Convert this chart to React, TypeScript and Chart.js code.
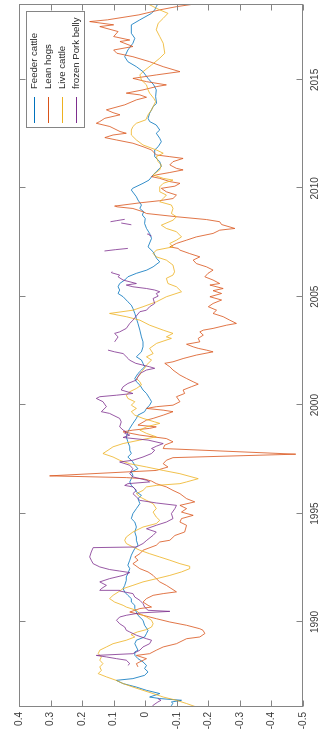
import React, { useEffect, useRef } from "react";
import { Chart, registerables } from "chart.js";

Chart.register(...registerables);

// ---- chart content ----
const seriesNames = ["Feeder cattle", "Lean hogs", "Live cattle", "frozen Pork belly"];
const seriesColors = ["#0072BD", "#D95319", "#EDB120", "#7E2F8E"];
const yearTicks = [1990, 1995, 2000, 2005, 2010, 2015];
const valueTicks = [-0.5, -0.4, -0.3, -0.2, -0.1, 0, 0.1, 0.2, 0.3, 0.4];
const yearMin = 1986.08;
const yearMax = 2018.5;

const feederYears = [
  1986.08, 1986.16, 1986.24, 1986.31, 1986.39, 1986.47, 1986.54, 1986.7, 1986.85, 1987.0,
  1987.16, 1987.31, 1987.39, 1987.54, 1987.7, 1987.85, 1988.0, 1988.16, 1988.31, 1988.47,
  1988.62, 1988.7, 1988.85, 1989.0, 1989.16, 1989.31, 1989.47, 1989.62, 1989.85, 1990.08,
  1990.31, 1990.46, 1990.62, 1990.77, 1990.92, 1991.08, 1991.23, 1991.38, 1991.54, 1991.69,
  1991.92, 1992.08, 1992.23, 1992.46, 1992.62, 1992.85, 1993.08, 1993.23, 1993.39, 1993.54,
  1993.77, 1993.92, 1994.15, 1994.38, 1994.61, 1994.77, 1995.0, 1995.23, 1995.46, 1995.69,
  1995.84, 1996.0, 1996.15, 1996.3, 1996.46, 1996.61, 1996.77, 1996.92, 1997.07, 1997.23,
  1997.38, 1997.61, 1997.77, 1997.92, 1998.08, 1998.31, 1998.54, 1998.77, 1998.93, 1999.16,
  1999.39, 1999.54, 1999.7, 1999.85, 2000.0, 2000.16, 2000.31, 2000.54, 2000.7, 2000.93,
  2001.08, 2001.23, 2001.46, 2001.62, 2001.77, 2001.93, 2002.08, 2002.23, 2002.46, 2002.69,
  2002.92, 2003.15, 2003.46, 2003.77, 2004.0, 2004.23, 2004.46, 2004.61, 2004.77, 2005.0,
  2005.15, 2005.31, 2005.46, 2005.61, 2005.77, 2005.92, 2006.08, 2006.23, 2006.38, 2006.61,
  2006.77, 2007.07, 2007.3, 2007.69, 2007.92, 2008.15, 2008.38, 2008.61, 2008.77, 2008.92,
  2009.07, 2009.23, 2009.46, 2009.61, 2009.92, 2010.0, 2010.23, 2010.38, 2010.62, 2010.77,
  2011.0, 2011.23, 2011.46, 2011.77, 2011.92, 2012.15, 2012.31, 2012.54, 2012.69, 2012.92,
  2013.08, 2013.23, 2013.46, 2013.62, 2013.77, 2013.92, 2014.23, 2014.54, 2014.77, 2015.07,
  2015.38, 2015.61, 2015.84, 2016.07, 2016.38, 2016.69, 2016.92, 2017.15, 2017.54, 2017.77,
  2018.07, 2018.23, 2018.38, 2018.5,
];
const feederValues = [
  -0.088, -0.083, -0.088, -0.083, -0.115, -0.046, -0.014, -0.046, -0.004, 0.028,
  0.07, 0.092, 0.039, 0.002, -0.009, 0.002, -0.004, 0.007, 0.023, 0.033,
  0.033, 0.023, 0.028, 0.033, 0.028, 0.002, -0.004, -0.009, 0.002, 0.007,
  0.023, 0.028, 0.033, 0.033, 0.044, 0.044, 0.055, 0.065, 0.07, 0.065,
  0.06, 0.06, 0.055, 0.049, 0.055, 0.049, 0.044, 0.039, 0.033, 0.023,
  0.028, 0.028, 0.033, 0.028, 0.033, 0.044, 0.039, 0.028, 0.017, 0.023,
  0.012, 0.028, 0.033, 0.044, 0.049, 0.044, 0.039, 0.044, 0.023, 0.033,
  0.039, 0.055, 0.044, 0.049, 0.049, 0.055, 0.06, 0.055, 0.049, 0.039,
  0.028, 0.023, 0.002, -0.004, -0.014, -0.02, -0.014, -0.004, 0.007, 0.017,
  0.028, 0.033, 0.023, 0.012, 0.002, 0.007, 0.012, 0.028, 0.012, 0.007,
  0.007, 0.012, 0.017, 0.023, 0.028, 0.033, 0.039, 0.044, 0.055, 0.07,
  0.086, 0.081, 0.086, 0.081, 0.065, 0.055, 0.028, -0.005, -0.025, -0.046,
  -0.036, -0.025, -0.009, -0.02, -0.014, -0.004, 0.002, 0.0, 0.009, 0.005,
  0.017, 0.012, 0.023, 0.028, 0.044, 0.04, 0.007, -0.012, -0.025, -0.035,
  -0.051, -0.046, -0.03, -0.03, -0.041, -0.051, -0.046, -0.035, -0.046, -0.035,
  -0.014, -0.009, -0.014, -0.02, -0.025, -0.036, -0.033, -0.035, -0.027, -0.009,
  0.007, 0.028, 0.055, 0.065, 0.055, 0.039, 0.033, 0.044, 0.044, 0.017,
  -0.02, -0.03, -0.035, -0.04,
];

const leanYears = [
  1987.93, 1988.08, 1988.16, 1988.31, 1988.46, 1988.54, 1988.7, 1988.85, 1989.0, 1989.23,
  1989.31, 1989.47, 1989.62, 1989.69, 1989.85, 1990.0, 1990.15, 1990.31, 1990.46, 1990.62,
  1990.69, 1990.77, 1990.92, 1991.08, 1991.23, 1991.31, 1991.39, 1991.69, 1991.85, 1992.0,
  1992.15, 1992.31, 1992.46, 1992.69, 1992.85, 1993.0, 1993.15, 1993.31, 1993.54, 1993.69,
  1993.77, 1993.99, 1994.15, 1994.46, 1994.61, 1994.77, 1994.92, 1995.07, 1995.23, 1995.38,
  1995.54, 1995.69, 1995.92, 1996.07, 1996.23, 1996.38, 1996.5, 1996.61, 1996.66, 1996.74,
  1996.99, 1997.15, 1997.3, 1997.46, 1997.58, 1997.74, 1998.0, 1998.16, 1998.31, 1998.46,
  1998.54, 1998.62, 1998.77, 1998.85, 1998.93, 1999.0, 1999.08, 1999.31, 1999.39, 1999.54,
  1999.7, 1999.77, 1999.85, 1999.93, 2000.0, 2000.16, 2000.39, 2000.54, 2000.7, 2000.85,
  2000.97, 2001.08, 2001.23, 2001.39, 2001.62, 2001.77, 2001.93, 2002.0, 2002.15, 2002.31,
  2002.46, 2002.54, 2002.62, 2002.69, 2002.81, 2002.92, 2003.08, 2003.23, 2003.38, 2003.46,
  2003.54, 2003.69, 2003.77, 2003.92, 2004.08, 2004.23, 2004.38, 2004.54, 2004.69, 2004.85,
  2005.0, 2005.15, 2005.28, 2005.38, 2005.54, 2005.61, 2005.77, 2005.92, 2006.08, 2006.23,
  2006.38, 2006.53, 2006.69, 2006.84, 2006.99, 2007.15, 2007.23, 2007.3, 2007.46, 2007.61,
  2007.76, 2007.92, 2008.07, 2008.15, 2008.33, 2008.46, 2008.56, 2008.69, 2008.84, 2008.92,
  2009.07, 2009.15, 2009.18, 2009.33, 2009.43, 2009.53, 2009.69, 2009.84, 2010.0, 2010.1,
  2010.23, 2010.31, 2010.46, 2010.54, 2010.62, 2010.73, 2010.85, 2010.92, 2011.08, 2011.23,
  2011.38, 2011.46, 2011.54, 2011.77, 2011.92, 2012.08, 2012.23, 2012.34, 2012.46, 2012.54,
  2012.62, 2012.85, 2013.0, 2013.08, 2013.23, 2013.39, 2013.49, 2013.62, 2013.85, 2014.08,
  2014.2, 2014.31, 2014.39, 2014.54, 2014.69, 2014.77, 2014.92, 2015.07, 2015.23, 2015.38,
  2015.61, 2015.84, 2016.07, 2016.23, 2016.38, 2016.54, 2016.77, 2016.84, 2017.0, 2017.23,
  2017.46, 2017.54, 2017.69, 2017.77, 2018.0, 2018.23, 2018.38, 2018.5,
];
const leanValues = [
  0.023, 0.028, 0.017, -0.004, 0.028, -0.014, -0.035, -0.057, -0.099, -0.131,
  -0.173, -0.189, -0.183, -0.173, -0.131, -0.078, -0.036, 0.007, 0.049, 0.017,
  -0.02, -0.009, 0.007, -0.004, -0.025, -0.057, -0.099, -0.067, -0.046, -0.035,
  -0.025, -0.009, 0.017, 0.039, 0.023, 0.033, 0.017, 0.007, -0.035, -0.046,
  -0.078, -0.094, -0.125, -0.131, -0.11, -0.115, -0.152, -0.115, -0.131, -0.11,
  -0.157, -0.131, -0.11, -0.088, -0.067, -0.035, -0.02, 0.007, 0.06, 0.303,
  -0.035, -0.072, -0.057, -0.067, -0.088, -0.477, -0.057, -0.062, -0.088, -0.067,
  -0.025, 0.017, 0.07, 0.039, -0.014, -0.035, 0.023, -0.004, -0.025, -0.057,
  -0.088, -0.057, -0.004, -0.035, -0.088, -0.11, -0.099, -0.125, -0.12, -0.146,
  -0.168, -0.152, -0.131, -0.11, -0.088, -0.078, -0.062, -0.088, -0.12, -0.162,
  -0.215, -0.194, -0.168, -0.152, -0.131, -0.173, -0.168, -0.184, -0.173, -0.184,
  -0.215, -0.258, -0.289, -0.268, -0.247, -0.215, -0.226, -0.2, -0.215, -0.242,
  -0.205, -0.242, -0.215, -0.247, -0.205, -0.236, -0.215, -0.189, -0.199, -0.215,
  -0.194, -0.162, -0.152, -0.173, -0.141, -0.11, -0.104, -0.078, -0.099, -0.131,
  -0.162, -0.215, -0.236, -0.284, -0.242, -0.236, -0.194, -0.099, -0.004, 0.007,
  0.039, 0.091, 0.097, 0.017, -0.046, -0.088, -0.099, -0.067, -0.051, -0.094,
  -0.11, -0.078, -0.046, -0.02, -0.035, -0.078, -0.12, -0.099, -0.078, -0.088,
  -0.12, -0.078, -0.035, -0.02, 0.007, 0.039, 0.091, 0.128, 0.102, 0.06,
  0.08, 0.112, 0.155, 0.144, 0.128, 0.08, 0.102, 0.123, 0.065, 0.028,
  -0.004, 0.017, 0.06, 0.007, -0.035, -0.067, -0.004, 0.039, -0.035, -0.11,
  -0.057, -0.014, 0.039, 0.09, 0.1, 0.039, 0.08, 0.049, 0.1, 0.086,
  0.144, 0.1, 0.176, 0.12, 0.02, -0.046, -0.1, -0.157,
];

const liveYears = [
  1986.08, 1986.24, 1986.39, 1986.54, 1986.7, 1986.85, 1987.0, 1987.16, 1987.31, 1987.47,
  1987.62, 1987.77, 1987.93, 1988.08, 1988.24, 1988.39, 1988.54, 1988.7, 1988.85, 1989.0,
  1989.16, 1989.31, 1989.42, 1989.54, 1989.65, 1989.77, 1989.92, 1990.08, 1990.23, 1990.38,
  1990.54, 1990.69, 1990.77, 1990.92, 1991.08, 1991.23, 1991.38, 1991.54, 1991.69, 1991.85,
  1992.0, 1992.15, 1992.31, 1992.46, 1992.57, 1992.69, 1992.85, 1993.0, 1993.15, 1993.31,
  1993.46, 1993.62, 1993.77, 1993.92, 1994.15, 1994.38, 1994.54, 1994.69, 1994.84, 1995.07,
  1995.23, 1995.46, 1995.61, 1995.77, 1995.92, 1996.07, 1996.23, 1996.3, 1996.38, 1996.46,
  1996.61, 1996.84, 1996.99, 1997.15, 1997.3, 1997.46, 1997.61, 1997.77, 1997.92, 1998.08,
  1998.23, 1998.39, 1998.54, 1998.7, 1998.85, 1999.0, 1999.16, 1999.23, 1999.39, 1999.54,
  1999.7, 1999.85, 2000.0, 2000.16, 2000.31, 2000.46, 2000.62, 2000.77, 2000.93, 2001.08,
  2001.23, 2001.39, 2001.54, 2001.7, 2001.85, 2002.08, 2002.23, 2002.38, 2002.62, 2002.85,
  2003.08, 2003.15, 2003.31, 2003.46, 2003.69, 2003.92, 2004.08, 2004.23, 2004.38, 2004.54,
  2004.77, 2005.0, 2005.23, 2005.46, 2005.61, 2005.85, 2006.0, 2006.15, 2006.46, 2006.69,
  2006.84, 2006.99, 2007.15, 2007.3, 2007.46, 2007.61, 2007.76, 2008.0, 2008.15, 2008.3,
  2008.53, 2008.69, 2008.84, 2009.07, 2009.23, 2009.38, 2009.53, 2009.69, 2009.84, 2010.07,
  2010.23, 2010.38, 2010.46, 2010.62, 2010.85, 2011.08, 2011.23, 2011.46, 2011.62, 2011.77,
  2012.0, 2012.23, 2012.46, 2012.69, 2012.85, 2013.0, 2013.16, 2013.39, 2013.62, 2013.77,
  2014.0, 2014.15, 2014.39, 2014.54, 2014.77, 2015.0, 2015.23, 2015.38, 2015.69, 2016.0,
  2016.23, 2016.69, 2017.0, 2017.31, 2017.61, 2017.84, 2018.07, 2018.23, 2018.5,
];
const liveValues = [
  -0.162, -0.131, -0.099, -0.057, -0.025, 0.007, 0.039, 0.07, 0.092, 0.123,
  0.149, 0.139, 0.144, 0.134, 0.144, 0.139, 0.149, 0.144, 0.123, 0.102,
  0.06, 0.033, 0.045, 0.025, -0.004, -0.02, -0.025, -0.02, -0.004, 0.017,
  0.028, 0.06, 0.07, 0.097, 0.113, 0.102, 0.086, 0.07, 0.039, 0.007,
  -0.036, -0.078, -0.115, -0.141, -0.141, -0.11, -0.078, -0.046, -0.014, 0.017,
  0.039, 0.06, 0.065, 0.06, 0.039, 0.007, -0.035, -0.046, -0.035, -0.025,
  -0.035, -0.025, -0.004, 0.017, 0.028, 0.007, -0.004, -0.035, -0.11, -0.131,
  -0.168, -0.11, -0.057, -0.004, 0.049, 0.081, 0.102, 0.134, 0.118, 0.102,
  0.07, 0.017, -0.035, -0.004, 0.017, -0.004, -0.046, -0.03, 0.007, 0.033,
  0.044, 0.028, 0.044, 0.033, 0.055, 0.06, 0.049, 0.028, 0.012, 0.017,
  0.028, 0.017, 0.012, 0.002, -0.004, -0.02, -0.004, -0.025, -0.014, -0.036,
  -0.083, -0.067, -0.088, -0.057, -0.014, 0.017, 0.06, 0.113, 0.039, 0.007,
  -0.036, -0.067, -0.115, -0.099, -0.072, -0.067, -0.088, -0.093, -0.088, -0.067,
  -0.035, -0.025, -0.035, -0.088, -0.078, -0.099, -0.115, -0.099, -0.067, -0.051,
  -0.088, -0.099, -0.083, -0.088, -0.083, -0.046, -0.057, -0.067, -0.046, -0.046,
  -0.057, -0.088, -0.057, -0.025, -0.046, -0.051, -0.041, -0.035, -0.057, -0.035,
  0.007, 0.028, 0.044, 0.044, 0.039, 0.028, -0.002, -0.009, -0.02, -0.025,
  -0.033, -0.027, -0.014, -0.009, -0.004, 0.012, 0.017, 0.007, -0.02, -0.046,
  -0.062, -0.057, -0.046, -0.035, -0.041, -0.057, -0.072, -0.046, -0.009,
];

const porkYears = [
  1986.08, 1986.16, 1986.31, 1986.39, 1986.47, 1987.2, 1988.0, 1988.08, 1988.24, 1988.31,
  1988.39, 1988.46, 1988.54, 1988.7, 1988.85, 1989.0, 1989.16, 1989.23, 1989.39, 1989.54,
  1989.62, 1989.77, 1989.92, 1990.08, 1990.23, 1990.31, 1990.42, 1990.49, 1990.54, 1990.69,
  1990.85, 1991.0, 1991.15, 1991.31, 1991.43, 1991.46, 1991.54, 1991.69, 1991.85, 1992.0,
  1992.15, 1992.28, 1992.35, 1992.42, 1992.54, 1992.69, 1992.85, 1993.0, 1993.23, 1993.43,
  1993.46, 1993.62, 1993.77, 1994.0, 1994.15, 1994.3, 1994.46, 1994.61, 1994.77, 1995.0,
  1995.23, 1995.38, 1995.49, 1995.61, 1995.77, 1995.92, 1996.07, 1996.23, 1996.3, 1996.38,
  1996.46, 1996.54, 1996.69, 1996.84, 1997.07, 1997.23, 1997.38, 1997.46, 1997.61, 1997.77,
  1997.92, 1998.0, 1998.11, 1998.23, 1998.39, 1998.51, 1998.62, 1998.7, 1998.77, 1998.85,
  1999.0, 1999.23, 1999.39, 1999.54, 1999.62, 1999.7, 1999.93, 2000.16, 2000.31, 2000.39,
  2000.46, 2000.54, 2000.7, 2000.85, 2001.0, 2001.16, 2001.31, 2001.46, 2001.62, 2001.7,
  2001.77, 2001.93, 2002.08, 2002.15, 2002.38, 2002.46, 2002.54, 2002.73, 2002.92, 2003.15,
  2003.31, 2003.38, 2003.54, 2003.77, 2003.92, 2004.31, 2004.38, 2004.54, 2004.69, 2004.92,
  2005.03, 2005.15, 2005.23, 2005.31, 2005.38, 2005.46, 2005.54, 2005.61, 2005.77, 2005.92,
  2006.0, 2006.11, 2006.16, 2006.6, 2007.11, 2007.17, 2007.23, 2007.5, 2007.8, 2007.85,
  2007.89, 2008.1, 2008.32, 2008.4, 2008.43, 2008.46, 2008.51, 2008.57,
];
const porkValues = [
  -0.02, -0.025, -0.04, -0.05, -0.04, null, 0.055, 0.049, 0.06, 0.091,
  0.123, 0.155, 0.039, 0.017, 0.007, -0.014, -0.02, -0.004, 0.028, 0.049,
  0.06, 0.065, 0.081, 0.091, 0.081, 0.06, 0.017, -0.078, -0.009, 0.002,
  0.007, 0.017, 0.033, 0.039, 0.081, 0.144, 0.139, 0.123, 0.144, 0.113,
  0.07, 0.049, 0.081, 0.113, 0.144, 0.165, 0.171, 0.176, 0.171, 0.165,
  0.028, 0.007, -0.005, -0.025, -0.035, -0.004, -0.035, -0.067, -0.088, -0.083,
  -0.094, -0.099, -0.035, 0.017, 0.028, 0.039, 0.028, 0.039, 0.065, 0.055,
  -0.014, -0.004, 0.039, 0.049, 0.039, 0.049, 0.081, 0.039, 0.007, -0.02,
  -0.03, -0.02, -0.036, -0.057, -0.009, 0.07, 0.049, 0.065, 0.06, 0.07,
  0.081, 0.076, 0.081, 0.102, 0.113, 0.139, 0.123, 0.134, 0.155, 0.144,
  0.091, 0.039, 0.076, 0.07, 0.055, 0.028, 0.023, 0.017, -0.004, -0.03,
  -0.014, 0.03, 0.05, 0.054, 0.07, 0.097, 0.118, null, 0.097, 0.086,
  0.097, 0.081, 0.06, 0.049, 0.039, 0.017, -0.004, -0.014, -0.03, -0.025,
  -0.041, -0.035, -0.046, -0.03, -0.004, 0.039, 0.06, 0.028, 0.07, 0.086,
  0.081, 0.107, 0.105, null, 0.129, 0.095, 0.055, null, -0.02, -0.012,
  -0.006, null, 0.044, 0.076, null, 0.11, 0.09, 0.065,
];

// ---- styling ----
const FONT_FAMILY = "'Liberation Sans', Arial, Helvetica, sans-serif";
const AXIS_COLOR = "#858585";
const LABEL_COLOR = "#3a3a3a";
const W = 737; // chart drawn unrotated, then turned a quarter turn
const H = 329;

const toPoints = (xs: number[], ys: (number | null)[]) => xs.map((x, i) => ({ x, y: ys[i] }));

const fmtValue = (v: number) => {
  const r = Math.round(v * 10) / 10;
  return r === 0 ? "0" : r.toFixed(1);
};

const framePlugin = {
  id: "matlabFrame",
  afterDraw(chart: any) {
    const { ctx, chartArea: a, scales } = chart;
    ctx.save();
    ctx.globalAlpha = 1;
    ctx.setLineDash([]);
    ctx.strokeStyle = AXIS_COLOR;
    ctx.lineWidth = 1;
    const L = Math.round(a.left) + 0.5;
    const R = Math.round(a.right) - 0.5;
    const T = Math.round(a.top) + 0.5;
    const B = Math.round(a.bottom) - 0.5;
    const seg = (x1: number, y1: number, x2: number, y2: number) => {
      ctx.beginPath();
      ctx.moveTo(x1, y1);
      ctx.lineTo(x2, y2);
      ctx.stroke();
    };
    ctx.strokeRect(L, T, R - L, B - T);
    const tl = 6;
    scales.x.ticks.forEach((t: any) => {
      const px = Math.round(scales.x.getPixelForValue(t.value)) + 0.5;
      seg(px, B, px, B - tl);
      seg(px, T, px, T + tl);
    });
    scales.y.ticks.forEach((t: any) => {
      const py = Math.round(scales.y.getPixelForValue(t.value)) + 0.5;
      seg(L, py, L + tl, py);
      seg(R, py, R - tl, py);
    });

    // legend box (top-right of the plot area, before rotation)
    const bw = 116;
    const bh = 58;
    const bx = Math.round(a.right - 8 - bw);
    const by = Math.round(a.top + 7);
    ctx.fillStyle = "#ffffff";
    ctx.fillRect(bx, by, bw, bh);
    ctx.strokeStyle = AXIS_COLOR;
    ctx.lineWidth = 1;
    ctx.strokeRect(bx + 0.5, by + 0.5, bw, bh);
    ctx.font = `9.6px ${FONT_FAMILY}`;
    ctx.textBaseline = "middle";
    ctx.textAlign = "left";
    seriesNames.forEach((name, i) => {
      const cy = Math.round(by + 8 + i * 14);
      ctx.fillStyle = seriesColors[i];
      ctx.fillRect(bx + 5, cy, 26, 1);
      ctx.fillStyle = "#262626";
      ctx.fillText(name, bx + 39, cy + 0.5);
    });
    ctx.restore();
  },
};

export default function App() {
  const canvasRef = useRef<HTMLCanvasElement | null>(null);

  useEffect(() => {
    const canvas = canvasRef.current;
    if (!canvas) return;
    const seriesPoints = [
      toPoints(feederYears, feederValues),
      toPoints(leanYears, leanValues),
      toPoints(liveYears, liveValues),
      toPoints(porkYears, porkValues),
    ];
    const chart = new Chart(canvas, {
      type: "line",
      data: {
        datasets: seriesNames.map((name, i) => ({
          label: name,
          data: seriesPoints[i],
          borderColor: seriesColors[i],
          backgroundColor: seriesColors[i],
          borderWidth: 0.8,
          pointRadius: 0,
          tension: 0,
          fill: false,
          spanGaps: false,
          order: seriesNames.length - 1 - i,
        })),
      },
      options: {
        responsive: false,
        animation: false,
        devicePixelRatio: 1,
        layout: { padding: { left: 0, right: 4, top: 19, bottom: 0 } },
        plugins: {
          legend: { display: false },
          tooltip: { enabled: false },
        },
        scales: {
          x: {
            type: "linear",
            min: yearMin,
            max: yearMax,
            grid: { display: false, drawTicks: false },
            border: { display: false },
            ticks: {
              color: LABEL_COLOR,
              font: { family: FONT_FAMILY, size: 10 },
              padding: 6,
              maxRotation: 0,
              autoSkip: false,
              callback: (v: any) => String(v),
            },
            afterBuildTicks: (s: any) => {
              s.ticks = yearTicks.map((v) => ({ value: v }));
            },
            afterFit: (s: any) => {
              s.height = 26;
            },
          },
          y: {
            type: "linear",
            min: -0.5,
            max: 0.4,
            grid: { display: false, drawTicks: false },
            border: { display: false },
            ticks: {
              color: LABEL_COLOR,
              font: { family: FONT_FAMILY, size: 10 },
              padding: 5,
              autoSkip: false,
              callback: (v: any) => fmtValue(Number(v)),
            },
            afterBuildTicks: (s: any) => {
              s.ticks = valueTicks.map((v) => ({ value: v }));
            },
            afterFit: (s: any) => {
              s.width = 30;
            },
          },
        },
      },
      plugins: [framePlugin],
    } as any);
    return () => chart.destroy();
  }, []);

  return (
    <div
      style={{
        position: "fixed",
        left: 0,
        top: 0,
        width: H,
        height: W,
        overflow: "hidden",
        background: "#ffffff",
      }}
    >
      <div
        style={{
          position: "absolute",
          left: 0,
          top: 0,
          width: W,
          height: H,
          transformOrigin: "0 0",
          transform: `translate(0px, ${W}px) rotate(-90deg)`,
        }}
      >
        <canvas ref={canvasRef} width={W} height={H} style={{ display: "block", width: W, height: H }} />
      </div>
    </div>
  );
}
